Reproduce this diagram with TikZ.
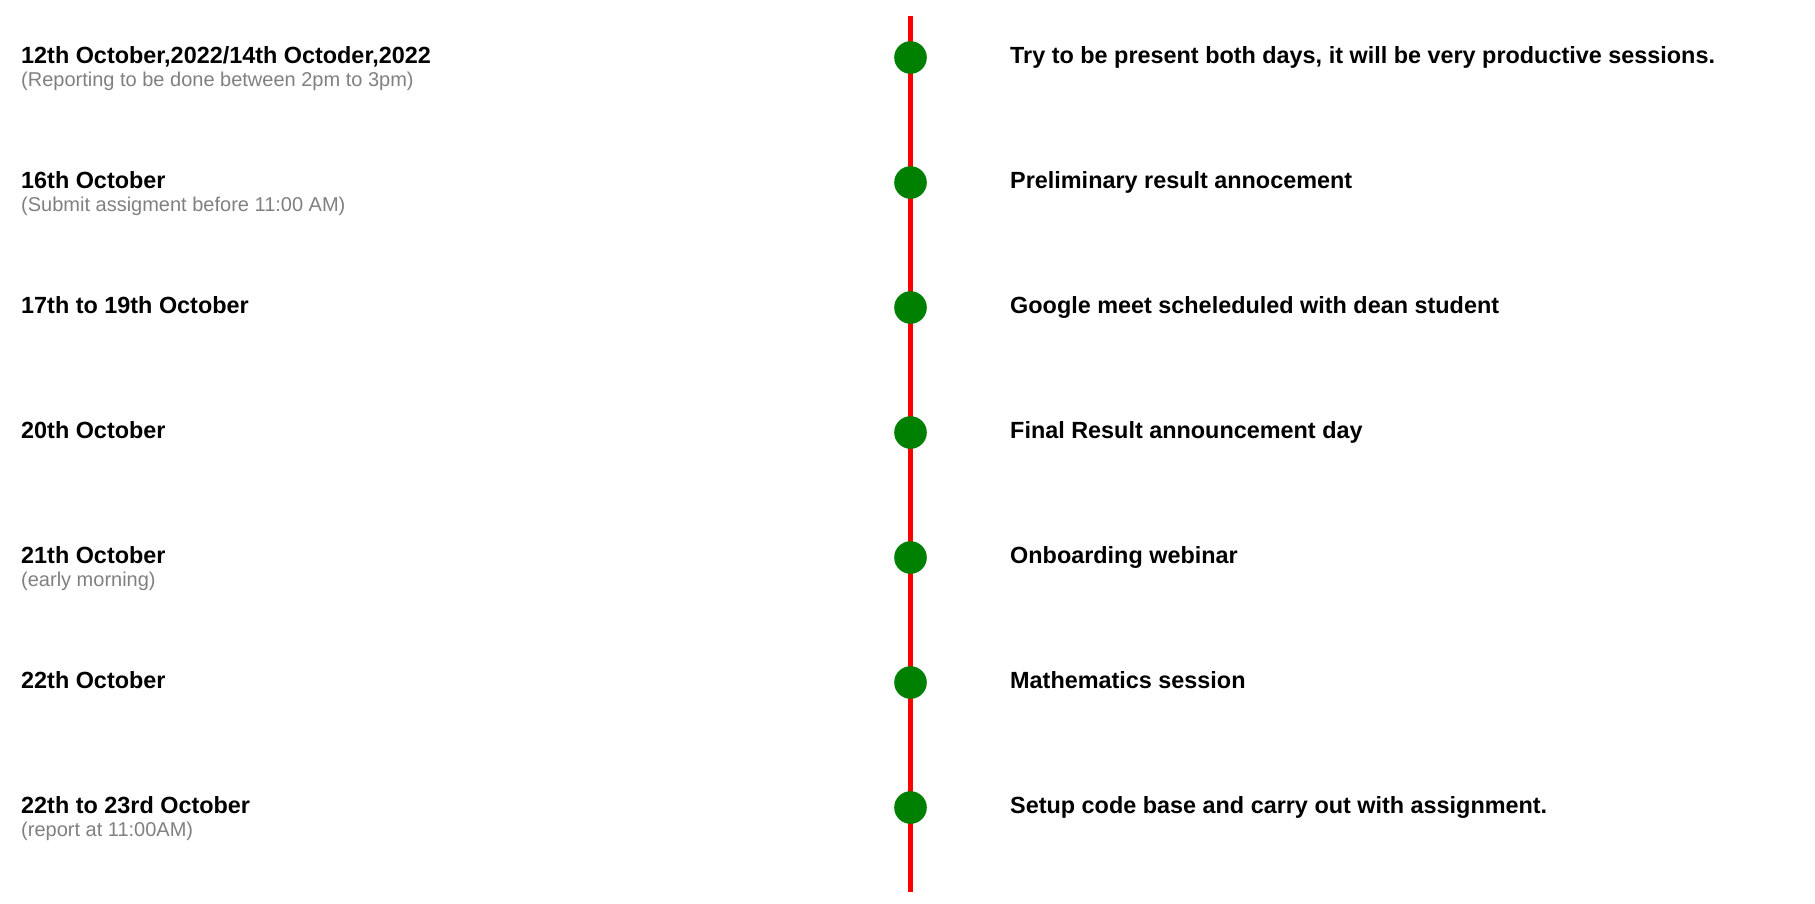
\documentclass[tikz,border=0pt]{standalone}
\usepackage{fontspec}
\setmainfont{Liberation Sans}
\definecolor{lineRed}{HTML}{FF0000}
\definecolor{dotGreen}{HTML}{008000}
\definecolor{noteGray}{HTML}{808080}
\tikzset{
  datetext/.style={anchor=base west, inner sep=0pt, font=\fontsize{23.4}{27}\selectfont\bfseries, text=black},
  notetext/.style={anchor=base west, inner sep=0pt, font=\fontsize{20}{24}\selectfont, text=noteGray},
  eventtext/.style={anchor=base west, inner sep=0pt, font=\fontsize{23.4}{27}\selectfont\bfseries, text=black},
  dotmark/.style={circle, fill=dotGreen, draw=none, minimum size=32.6pt, inner sep=0pt},
  axisline/.style={draw=lineRed, line width=5pt}
}
\begin{document}
\begin{tikzpicture}[x=1pt,y=-1pt]
\useasboundingbox (0,0) rectangle (1815,903);
\coordinate (top) at (910.5,16);
\coordinate (bottom) at (910.5,892);
\draw[axisline] (top) -- (bottom);
\foreach \i/\d/\n/\e in {
  1/{12th October,2022/14th Octoder,2022}/{(Reporting to be done between 2pm to 3pm)}/{Try to be present both days, it will be very productive sessions.},
  2/{16th October}/{(Submit assigment before 11:00 AM)}/{Preliminary result annocement},
  3/{17th to 19th October}/{}/{Google meet scheleduled with dean student},
  4/{20th October}/{}/{Final Result announcement day},
  5/{21th October}/{(early morning)}/{Onboarding webinar},
  6/{22th October}/{}/{Mathematics session},
  7/{22th to 23rd October}/{(report at 11:00AM)}/{Setup code base and carry out with assignment.}
}{
  \pgfmathsetmacro{\yc}{57.5+125*(\i-1)}
  \pgfmathsetmacro{\yb}{63.3+125*(\i-1)}
  \pgfmathsetmacro{\yn}{86.5+125*(\i-1)}
  \node[dotmark] (dot\i) at (910.5,\yc) {};
  \node[datetext] (date\i) at (21,\yb) {\d};
  \node[notetext] (note\i) at (21,\yn) {\n};
  \node[eventtext] (event\i) at (1010,\yb) {\e};
}
\end{tikzpicture}
\end{document}
